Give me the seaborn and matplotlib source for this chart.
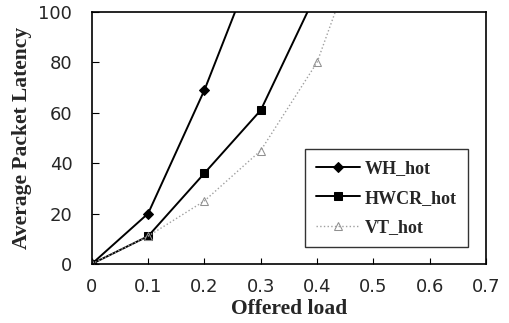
import pandas as pd
import matplotlib.pyplot as plt
import seaborn as sns

# values
load = [0.0, 0.1, 0.2, 0.3, 0.4, 0.5]
wh_hot = [0, 20, 69, 126, None, None]
hwcr_hot = [0, 11, 36, 61, 108, None]
vt_hot = [0, 11, 25, 45, 80, 142]

df = pd.DataFrame({"load": load, "WH_hot": wh_hot, "HWCR_hot": hwcr_hot, "VT_hot": vt_hot})

sns.set_style("white")
plt.rcParams['font.family'] = ['DejaVu Sans']

fig = plt.figure(figsize=(5.1, 3.23), dpi=100)
ax = fig.add_axes([0.180, 0.183, 0.773, 0.780])

sns.lineplot(data=df, x="load", y="WH_hot", ax=ax, color="black", lw=1.4,
             marker="D", markersize=5, markeredgecolor="black", label="WH_hot")
sns.lineplot(data=df, x="load", y="HWCR_hot", ax=ax, color="black", lw=1.4,
             marker="s", markersize=6, markeredgecolor="black", label="HWCR_hot")
sns.lineplot(data=df, x="load", y="VT_hot", ax=ax, color="#a0a0a0", lw=1.0, ls=":",
             marker="^", markersize=6, markerfacecolor="none", markeredgecolor="#909090",
             label="VT_hot")

ax.set_xlim(0, 0.7)
ax.set_ylim(0, 100)
ax.set_xticks([0, 0.1, 0.2, 0.3, 0.4, 0.5, 0.6, 0.7])
ax.set_xticklabels(["0", "0.1", "0.2", "0.3", "0.4", "0.5", "0.6", "0.7"])
ax.set_yticks([0, 20, 40, 60, 80, 100])
ax.tick_params(axis="x", direction="in", length=4, labelsize=13, pad=10, color="black", bottom=True)
ax.tick_params(axis="y", direction="in", length=5, labelsize=13, pad=14, color="black", left=True)
for s in ax.spines.values():
    s.set_color("black")
    s.set_linewidth(1.2)

ax.set_xlabel("Offered load", family="Liberation Serif", fontweight="bold", fontsize=15.5, labelpad=2)
ax.set_ylabel("Average Packet Latency", family="Liberation Serif", fontweight="bold", fontsize=15.5, labelpad=5)

leg = ax.legend(loc="lower right", bbox_to_anchor=(0.954, 0.067), borderaxespad=0,
                frameon=True, fancybox=False, edgecolor="black",
                prop={"family": "Liberation Serif", "weight": "bold", "size": 13},
                handlelength=2.4, labelspacing=0.7, borderpad=0.6, handletextpad=0.3)
leg.get_frame().set_linewidth(1.0)

fig.savefig("out.png", dpi=100)
